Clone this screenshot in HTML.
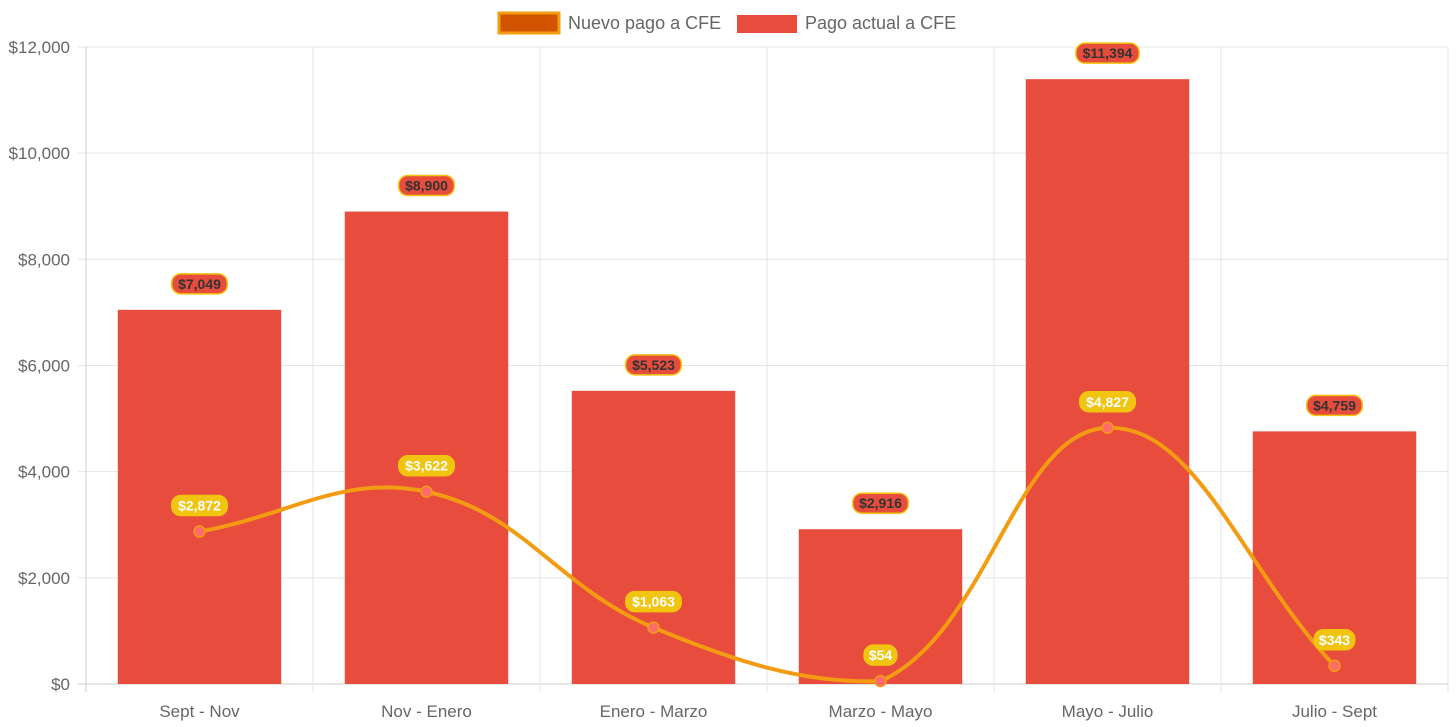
<!DOCTYPE html>
<html><head><meta charset="utf-8"><style>
html,body{margin:0;padding:0;background:#fff;}
svg{display:block;font-family:"Liberation Sans",Arial,sans-serif;}
</style></head><body>
<svg id="chart" width="1456" height="727">
<g id="grid"></g>
<g id="legend">
  <g>
    <rect x="499" y="13" width="60" height="20" fill="#d35400" stroke="#f39c12" stroke-width="3"/>
    <text x="568" y="29" font-size="18" fill="#666">Nuevo pago a CFE</text>
  </g>
  <g>
    <rect x="737" y="15" width="60" height="18" fill="#e74c3c"/>
    <text x="805" y="29" font-size="18" fill="#666">Pago actual a CFE</text>
  </g>
</g>
<g id="bars"></g>
<g id="line"></g>
<g id="labels"></g>
</svg>
<script>
const categories = ["Sept - Nov","Nov - Enero","Enero - Marzo","Marzo - Mayo","Mayo - Julio","Julio - Sept"];
const pagoActual = [7049, 8900, 5523, 2916, 11394, 4759];
const nuevoPago = [2872, 3622, 1063, 54, 4827, 343];
const yTicks = [0, 2000, 4000, 6000, 8000, 10000, 12000];

const NS = "http://www.w3.org/2000/svg";
const L = 86, R = 1448, T = 47, B = 684, YMAX = 12000;
const bw = (R - L) / categories.length;
const xC = i => L + bw * (i + 0.5);
const yS = v => B - v / YMAX * (B - T);
const fmt = v => "$" + v.toLocaleString("en-US");
function mk(tag, attrs, parent) {
  const e = document.createElementNS(NS, tag);
  for (const k in attrs) e.setAttribute(k, attrs[k]);
  parent.appendChild(e); return e;
}
const grid = document.getElementById("grid");
yTicks.forEach(v => {
  const l = mk("line", {x1: L - 8, x2: R, y1: yS(v), y2: yS(v), stroke: v === 0 ? "#ccc" : "#e5e5e5", "stroke-width": 1}, grid);
  
  
  const t = mk("text", {x: L - 16, y: yS(v) + 6, "text-anchor": "end", "font-size": 17, fill: "#666"}, grid);
  t.textContent = fmt(v);
  
  
});
for (let i = 0; i <= categories.length; i++) {
  const x = L + bw * i;
  const l = mk("line", {x1: x, x2: x, y1: T, y2: B + 8, stroke: i === 0 ? "#ccc" : "#e5e5e5", "stroke-width": 1}, grid);
  
  
}
categories.forEach((c, i) => {
  const t = mk("text", {x: xC(i), y: 717, "text-anchor": "middle", "font-size": 17, fill: "#666"}, grid);
  t.textContent = c;
  
  
});
const bars = document.getElementById("bars");
const barW = bw * 0.72;
pagoActual.forEach((v, i) => {
  const r = mk("rect", {x: xC(i) - barW / 2, y: yS(v), width: barW, height: B - yS(v), fill: "#e74c3c"}, bars);
  
  
});
const lineG = document.getElementById("line");
const pts = nuevoPago.map((v, i) => ({x: xC(i), y: yS(v)}));
const tension = 0.4;
const clampY = y => Math.max(T, Math.min(B, y));
const cps = pts.map((p, i) => {
  const prev = pts[i - 1] || p, next = pts[i + 1] || p;
  const d01 = Math.hypot(p.x - prev.x, p.y - prev.y), d12 = Math.hypot(next.x - p.x, next.y - p.y);
  let s01 = d01 / (d01 + d12), s12 = d12 / (d01 + d12);
  if (isNaN(s01)) s01 = 0; if (isNaN(s12)) s12 = 0;
  const fa = tension * s01, fb = tension * s12;
  return {px: p.x - fa * (next.x - prev.x), py: clampY(p.y - fa * (next.y - prev.y)), nx: p.x + fb * (next.x - prev.x), ny: clampY(p.y + fb * (next.y - prev.y))};
});
let d = `M${pts[0].x},${pts[0].y}`;
for (let i = 1; i < pts.length; i++) d += ` C${cps[i-1].nx},${cps[i-1].ny} ${cps[i].px},${cps[i].py} ${pts[i].x},${pts[i].y}`;
const path = mk("path", {d, fill: "none", stroke: "#f39c12", "stroke-width": 4}, lineG);


pts.forEach((p, i) => {
  const c = mk("circle", {cx: p.x, cy: p.y, r: 5.5, fill: "#ff6b6b", stroke: "#f39c12", "stroke-width": 1.5}, lineG);
  
  
});
const labels = document.getElementById("labels");
function label(x, y, txt, fill, stroke, color, name) {
  const w = txt.length * 7.6 + 10;
  const r = mk("rect", {x: x - w / 2, y: y - 10, width: w, height: 20, rx: 9, fill, stroke, "stroke-width": 1.5}, labels);
  
  
  const t = mk("text", {x, y: y + 5, "text-anchor": "middle", "font-size": 14, "font-weight": "bold", fill: color}, labels);
  t.textContent = txt;
  
  
}
pagoActual.forEach((v, i) => label(xC(i), yS(v) - 26, fmt(v), "#e74c3c", "#f1c40f", "#333", 'bar-value-label'));
nuevoPago.forEach((v, i) => label(xC(i), yS(v) - 26, fmt(v), "#f1c40f", "#f1c40f", "#fff", 'line-value-label'));
</script>
</body></html>
